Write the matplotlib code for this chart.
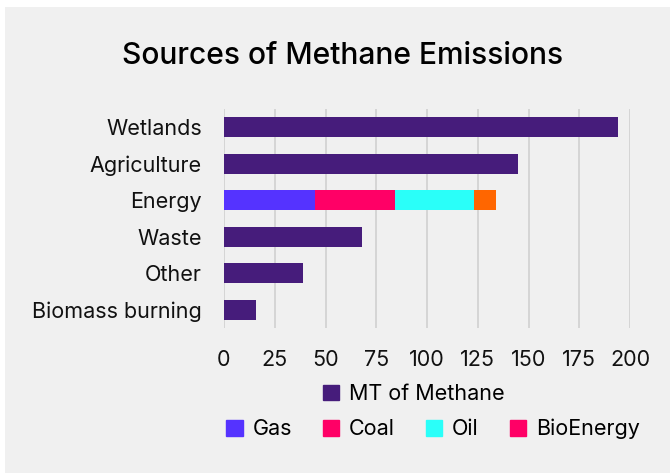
import matplotlib
matplotlib.use("Agg")
import matplotlib.pyplot as plt
from matplotlib.patches import Patch, Rectangle

categories = ["Wetlands", "Agriculture", "Energy", "Waste", "Other", "Biomass burning"]
totals = [194, 145, None, 68, 39, 16]
energy_parts = ["Gas", "Coal", "Oil", "BioEnergy"]
energy_values = [45, 39, 39, 11]
x_ticks = [0, 25, 50, 75, 100, 125, 150, 175, 200]

purple = "#461c7b"
part_colors = ["#5533ff", "#ff0066", "#2afff9", "#ff6600"]
legend_part_colors = ["#5533ff", "#ff0066", "#2afff9", "#ff0066"]
bg = "#f0f0f0"
font = "Inter"
fs = 15.5

plt.rcParams["font.family"] = [font, "DejaVu Sans"]

W, H = 670, 473
fig = plt.figure(figsize=(W / 100, H / 100), dpi=100, facecolor="white")
fig.patches.append(Rectangle((5 / W, 0), 1, 1 - 7 / H, transform=fig.transFigure,
                             facecolor=bg, edgecolor="none", zorder=-10))

ax = fig.add_axes([224 / W, (H - 328) / H, 406 / W, 219 / H])
ax.set_facecolor("none")

ypos = list(range(len(categories)))
bar_h = 0.55
for y, cat, val in zip(ypos, categories, totals):
    if val is not None:
        ax.barh(y, val, height=bar_h, color=purple, zorder=3)
    else:
        left = 0
        for v, c in zip(energy_values, part_colors):
            ax.barh(y, v, left=left, height=bar_h, color=c, zorder=3)
            left += v

ax.set_ylim(len(categories) - 0.5, -0.5)
ax.set_xlim(0, 200)
ax.set_yticks(ypos)
ax.set_yticklabels(categories, fontsize=fs, color="#111111")
ax.set_xticks(x_ticks)
ax.set_xticklabels([str(t) for t in x_ticks], fontsize=fs, color="#111111")
ax.tick_params(axis="y", length=0, pad=16)
ax.tick_params(axis="x", length=0, pad=15.5)
ax.grid(axis="x", color="#d0d0d0", linewidth=1.2, zorder=0)
for s in ax.spines.values():
    s.set_visible(False)

fig.text(343 / W, 1 - 56 / H, "Sources of Methane Emissions", ha="center", va="center",
         fontsize=21.6, color="#000000", fontweight="medium")

leg1 = fig.legend(handles=[Patch(color=purple, label="MT of Methane")],
                  loc="center", bbox_to_anchor=(414 / W, 1 - 394 / H), frameon=False,
                  fontsize=fs, handlelength=0.75, handleheight=0.75, handletextpad=0.45,
                  borderpad=0, borderaxespad=0)
leg2 = fig.legend(handles=[Patch(color=c, label=l) for c, l in zip(legend_part_colors, energy_parts)],
                  loc="center", bbox_to_anchor=(433 / W, 1 - 429 / H), frameon=False, ncol=4,
                  fontsize=fs, handlelength=0.75, handleheight=0.75, handletextpad=0.45,
                  columnspacing=1.45, borderpad=0, borderaxespad=0)

fig.savefig("out.png", dpi=100, facecolor="white")
